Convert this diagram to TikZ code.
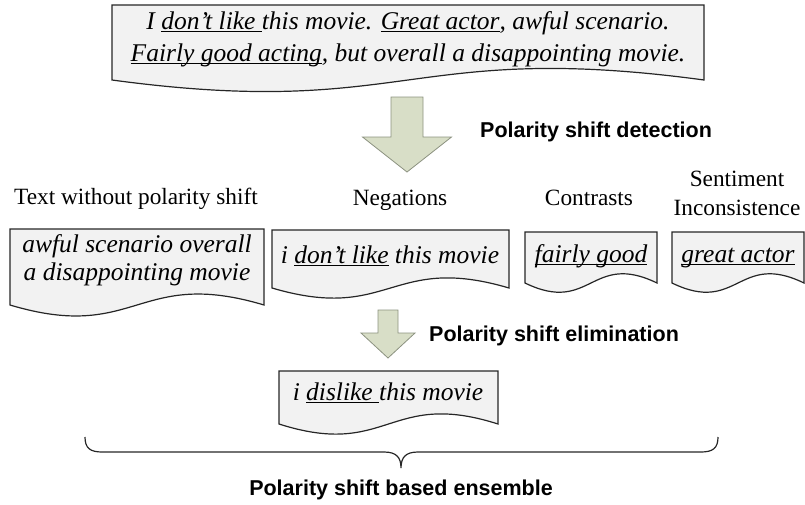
\documentclass[tikz,border=0pt]{standalone}
\usepackage{fontspec}
\setmainfont{Liberation Serif}
\setsansfont{Liberation Sans}
\definecolor{arrowfill}{RGB}{216,222,199}
\definecolor{arrowline}{RGB}{140,146,128}
\definecolor{docfill}{RGB}{242,242,242}
\newcommand\myul[1]{\setbox0\hbox{#1}\rlap{\rule[-2.6pt]{\wd0}{0.9pt}}\box0\relax}
% L T R E k
\newcommand\docshape[5]{\filldraw[doc] (#1,#2) -- (#3,#2) -- (#3,#4) .. controls ({(#1+#3)/2},{#4-#5}) and ({(#1+#3)/2},{#4+#5}) .. (#1,#4) -- cycle;}
% cx top shafthalf heady headhalf tip
\newcommand\blockarr[6]{\filldraw[blk] ({#1-#3},#2) -- ({#1+#3},#2) -- ({#1+#3},#4) -- ({#1+#5},#4) -- (#1,#6) -- ({#1-#5},#4) -- ({#1-#3},#4) -- cycle;}
\begin{document}
\begin{tikzpicture}[x=1pt,y=-1pt,
  doc/.style={fill=docfill,draw=black!85,line width=1.2pt},
  body/.style={font=\fontsize{25.5}{30}\selectfont\itshape,inner sep=0pt,anchor=base},
  ttl/.style={font=\fontsize{23.3}{28}\selectfont,inner sep=0pt,anchor=base},
  lbl/.style={font=\fontsize{21.5}{25}\selectfont\sffamily\bfseries,inner sep=0pt},
  blk/.style={fill=arrowfill,draw=arrowline,line width=0.8pt}]
\useasboundingbox (0,0) rectangle (805,504);

% top document
\docshape{112}{5}{704}{80}{40}
\node[body] (top1) at (408,29) {I \myul{don’t like }this movie. \myul{Great actor}, awful scenario.};
\node[body] (top2) at (408,61) {\myul{Fairly good acting}, but overall a disappointing movie.};

% detection arrow
\blockarr{407}{97}{16}{137}{44.5}{172}
\node[lbl,anchor=base west] (det) at (480,137) {Polarity shift detection};

% titles
\node[ttl] (t1) at (136,204) {Text without polarity shift};
\node[ttl] (t2) at (400,205) {Negations};
\node[ttl] (t3) at (589,205) {Contrasts};
\node[ttl] (t4a) at (737,186) {Sentiment};
\node[ttl] (t4b) at (737,215) {Inconsistence};

% row of documents
\docshape{10}{229}{264}{305}{38}
\node[body] (b1a) at (137,252) {awful scenario overall};
\node[body] (b1b) at (137,280) {a disappointing movie};

\docshape{272}{230}{509}{288}{35}
\node[body] (b2) at (390,263) {i \myul{don’t like} this movie};

\docshape{525}{232}{657}{283}{32}
\node[body] (b3) at (591,262) {\myul{fairly good}};

\docshape{672}{232}{804}{283}{32}
\node[body] (b4) at (738,262) {\myul{great actor}};

% elimination arrow
\blockarr{388}{310}{10}{333}{27}{358}
\node[lbl,anchor=base west] (elim) at (429,341) {Polarity shift elimination};

% result document
\docshape{279}{371}{498}{424}{35}
\node[body] (res) at (388,400) {i \myul{dislike }this movie};

% brace
\coordinate (bl) at (85,437);
\coordinate (br) at (718,437);
\coordinate (bt) at (401,468);
\draw[line width=1.2pt,black!85] (bl) .. controls (85,448) and (90,452) .. (102,452) -- (384,452) .. controls (396,452) and (401,457) .. (bt) .. controls (401,457) and (406,452) .. (418,452) -- (701,452) .. controls (713,452) and (718,448) .. (br);
\node[lbl,anchor=base] (ens) at (401,495) {Polarity shift based ensemble};
\end{tikzpicture}
\end{document}
